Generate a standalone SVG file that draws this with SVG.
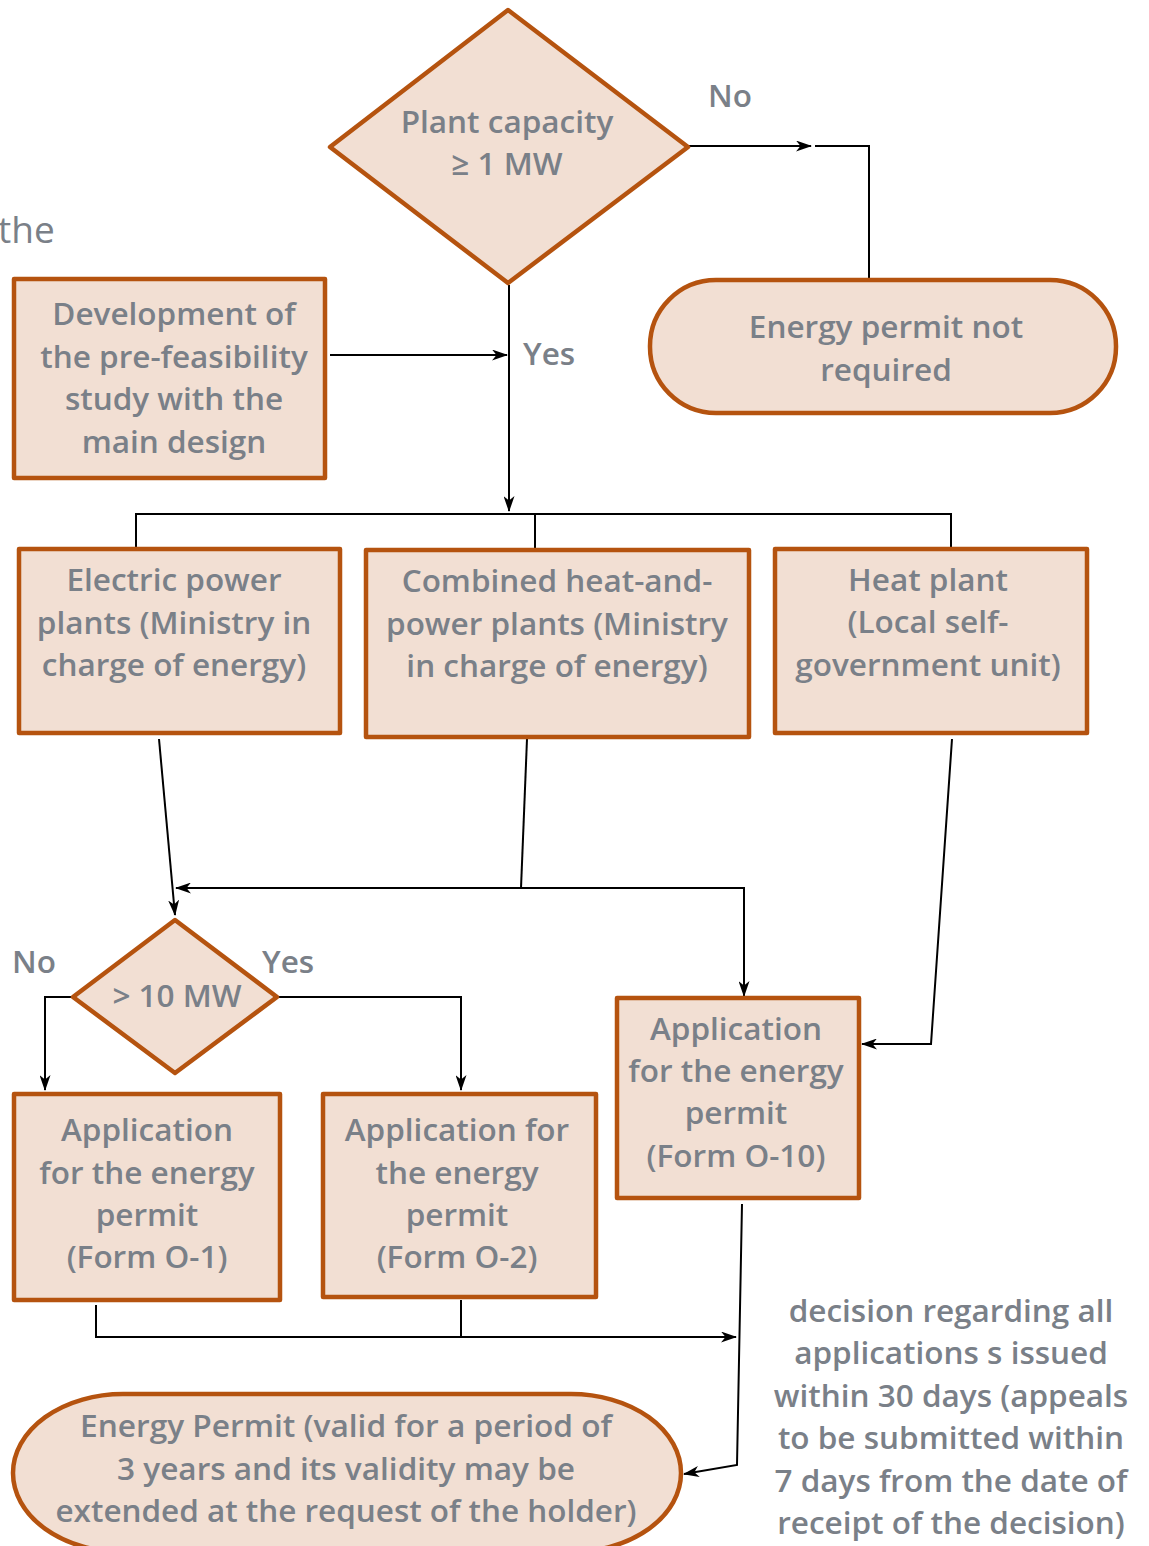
<svg xmlns="http://www.w3.org/2000/svg" width="1149" height="1546" viewBox="0 0 1149 1546">
  <style>
    .node { fill: #f2dfd3; stroke: #b5530f; stroke-width: 4.5; stroke-linejoin: round; }
    .txt { font-family: "Open Sans", "Noto Sans", "Liberation Sans", sans-serif; font-weight: 600; font-size: 31.5px; fill: #7a8088; text-anchor: middle; }
    .lbl { font-family: "Open Sans", "Noto Sans", "Liberation Sans", sans-serif; font-weight: 600; font-size: 31.5px; fill: #7a8088; }
    .conn { fill: none; stroke: #000; stroke-width: 2; }
  </style>
  <defs>
    <marker id="arrow" viewBox="0 0 16 11" refX="15" refY="5.5" markerWidth="16" markerHeight="11" markerUnits="userSpaceOnUse" orient="auto">
      <path d="M0,0 L16,5.5 L0,11 L4.5,5.5 z" fill="#000"/>
    </marker>
  </defs>

  <rect width="1149" height="1546" fill="#fff"/>

  <!-- stray caption fragment at the left edge -->
  <text x="-2" y="243" font-family="'Open Sans', 'Noto Sans', sans-serif" font-size="37" font-weight="500" fill="#7a8088">the</text>

  <!-- connectors -->
  <g id="connectors">
    <path class="conn" d="M688,146 H811" marker-end="url(#arrow)"/>
    <path class="conn" d="M815,146 H869 V280"/>
    <path class="conn" d="M330,355 H507" marker-end="url(#arrow)"/>
    <path class="conn" d="M509,285 V511" marker-end="url(#arrow)"/>
    <path class="conn" d="M136,549 V514 H951 V549"/>
    <path class="conn" d="M535,514 V550"/>
    <path class="conn" d="M159,739 L175,915" marker-end="url(#arrow)"/>
    <path class="conn" d="M527,739 L521,888"/>
    <path class="conn" d="M521,888 H176" marker-end="url(#arrow)"/>
    <path class="conn" d="M521,888 H744 V996" marker-end="url(#arrow)"/>
    <path class="conn" d="M952,739 L931,1044 H862" marker-end="url(#arrow)"/>
    <path class="conn" d="M73,997 H45 V1090" marker-end="url(#arrow)"/>
    <path class="conn" d="M277,997 H461 V1090" marker-end="url(#arrow)"/>
    <path class="conn" d="M96,1305 V1337 H736" marker-end="url(#arrow)"/>
    <path class="conn" d="M461,1300 V1337"/>
    <path class="conn" d="M742,1204 L737,1465 L684,1474" marker-end="url(#arrow)"/>
  </g>

  <!-- decision: plant capacity -->
  <g id="capacity-check">
    <polygon class="node" points="508,10 688,147 508,283 330,147"/>
    <text class="txt" x="507" y="133">Plant capacity</text>
    <text class="txt" x="507" y="175">≥ 1 MW</text>
  </g>
  <text class="lbl" x="708" y="107">No</text>
  <text class="lbl" x="523" y="365">Yes</text>

  <g id="not-required">
    <rect class="node" x="650" y="280" width="466" height="133" rx="66" ry="66"/>
    <text class="txt" x="886" y="338">Energy permit not</text>
    <text class="txt" x="886" y="381">required</text>
  </g>

  <g id="prefeasibility">
    <rect class="node" x="14" y="279" width="311" height="199"/>
    <text class="txt" x="174" y="325">Development of</text>
    <text class="txt" x="174" y="368">the pre-feasibility</text>
    <text class="txt" x="174" y="410">study with the</text>
    <text class="txt" x="174" y="453">main design</text>
  </g>

  <g id="electric-plants">
    <rect class="node" x="19" y="549" width="321" height="184"/>
    <text class="txt" x="174" y="591">Electric power</text>
    <text class="txt" x="174" y="634">plants (Ministry in</text>
    <text class="txt" x="174" y="676">charge of energy)</text>
  </g>

  <g id="chp-plants">
    <rect class="node" x="366" y="550" width="383" height="187"/>
    <text class="txt" x="557" y="592">Combined heat-and-</text>
    <text class="txt" x="557" y="635">power plants (Ministry</text>
    <text class="txt" x="557" y="677">in charge of energy)</text>
  </g>

  <g id="heat-plant">
    <rect class="node" x="775" y="549" width="312" height="184"/>
    <text class="txt" x="928" y="591">Heat plant</text>
    <text class="txt" x="928" y="633">(Local self-</text>
    <text class="txt" x="928" y="676">government unit)</text>
  </g>

  <!-- decision: above 10 MW -->
  <g id="size-check">
    <polygon class="node" points="175,920 277,997 175,1073 73,997"/>
    <text class="txt" x="177" y="1007">&gt; 10 MW</text>
  </g>
  <text class="lbl" x="12" y="973">No</text>
  <text class="lbl" x="262" y="973">Yes</text>

  <g id="form-o1">
    <rect class="node" x="14" y="1094" width="266" height="206"/>
    <text class="txt" x="147" y="1141">Application</text>
    <text class="txt" x="147" y="1184">for the energy</text>
    <text class="txt" x="147" y="1226">permit</text>
    <text class="txt" x="147" y="1268">(Form O-1)</text>
  </g>

  <g id="form-o2">
    <rect class="node" x="323" y="1094" width="273" height="203"/>
    <text class="txt" x="457" y="1141">Application for</text>
    <text class="txt" x="457" y="1184">the energy</text>
    <text class="txt" x="457" y="1226">permit</text>
    <text class="txt" x="457" y="1268">(Form O-2)</text>
  </g>

  <g id="form-o10">
    <rect class="node" x="617" y="998" width="242" height="200"/>
    <text class="txt" x="736" y="1040">Application</text>
    <text class="txt" x="736" y="1082">for the energy</text>
    <text class="txt" x="736" y="1124">permit</text>
    <text class="txt" x="736" y="1167">(Form O-10)</text>
  </g>

  <g id="energy-permit">
    <rect class="node" x="13" y="1394" width="668" height="158" rx="110" ry="79"/>
    <text class="txt" x="346" y="1437" textLength="532" lengthAdjust="spacingAndGlyphs">Energy Permit (valid for a period of</text>
    <text class="txt" x="346" y="1480" textLength="458" lengthAdjust="spacingAndGlyphs">3 years and its validity may be</text>
    <text class="txt" x="346" y="1522" textLength="581" lengthAdjust="spacingAndGlyphs">extended at the request of the holder)</text>
  </g>

  <g id="decision-note">
    <text class="txt" x="951" y="1322">decision regarding all</text>
    <text class="txt" x="951" y="1364">applications s issued</text>
    <text class="txt" x="951" y="1407">within 30 days (appeals</text>
    <text class="txt" x="951" y="1449">to be submitted within</text>
    <text class="txt" x="951" y="1492">7 days from the date of</text>
    <text class="txt" x="951" y="1534">receipt of the decision)</text>
  </g>
</svg>
